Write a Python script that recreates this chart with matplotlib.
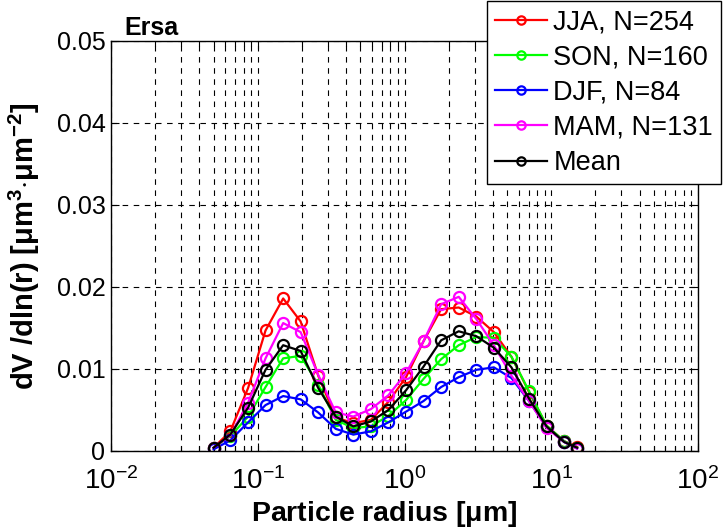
import matplotlib
matplotlib.use("Agg")
import matplotlib.pyplot as plt
from matplotlib.ticker import LogLocator, NullFormatter
import numpy as np

plt.rcParams['font.family'] = ['Liberation Sans', 'DejaVu Sans']
plt.rcParams['mathtext.fontset'] = 'custom'
plt.rcParams['mathtext.rm'] = 'Liberation Sans'
plt.rcParams['mathtext.bf'] = 'Liberation Sans:bold'
plt.rcParams['mathtext.it'] = 'Liberation Sans:italic'

radius = [0.050, 0.065, 0.086, 0.113, 0.149, 0.196, 0.258, 0.340, 0.448, 0.590, 0.777,
          1.024, 1.349, 1.777, 2.341, 3.084, 4.063, 5.353, 7.052, 9.290, 12.239, 15.000]

jja = [0.0004, 0.0024, 0.0077, 0.0147, 0.0186, 0.0158, 0.0092, 0.0041, 0.0034, 0.0038, 0.0060,
       0.0090, 0.0134, 0.0173, 0.0175, 0.0164, 0.0145, 0.0115, 0.0072, 0.0031, 0.0012, 0.0005]
son = [0.0004, 0.0018, 0.0042, 0.0078, 0.0113, 0.0116, 0.0081, 0.0038, 0.0028, 0.0030, 0.0043,
       0.0062, 0.0088, 0.0112, 0.0129, 0.0139, 0.0138, 0.0115, 0.0073, 0.0031, 0.0012, 0.0004]
djf = [0.0002, 0.0013, 0.0035, 0.0056, 0.0067, 0.0063, 0.0047, 0.0027, 0.0020, 0.0024, 0.0035,
       0.0048, 0.0061, 0.0078, 0.0090, 0.0099, 0.0102, 0.0089, 0.0061, 0.0029, 0.0011, 0.0003]
mam = [0.0004, 0.0019, 0.0059, 0.0113, 0.0156, 0.0145, 0.0093, 0.0047, 0.0042, 0.0051, 0.0068,
       0.0095, 0.0134, 0.0179, 0.0188, 0.0161, 0.0129, 0.0092, 0.0061, 0.0028, 0.0011, 0.0003]
mean = [0.0004, 0.0020, 0.0053, 0.0099, 0.0129, 0.0122, 0.0077, 0.0042, 0.0030, 0.0036, 0.0050,
        0.0074, 0.0103, 0.0135, 0.0146, 0.0140, 0.0126, 0.0102, 0.0064, 0.0030, 0.0011, 0.0004]

labels = ['JJA, N=254', 'SON, N=160', 'DJF, N=84', 'MAM, N=131', 'Mean']
colors = ['#ff0000', '#00ff00', '#0000ff', '#ff00ff', '#000000']
series = [jja, son, djf, mam, mean]

yticks = [0, 0.01, 0.02, 0.03, 0.04, 0.05]
ytick_labels = ['0', '0.01', '0.02', '0.03', '0.04', '0.05']

fig = plt.figure(figsize=(7.23, 5.30), dpi=100)
ax = fig.add_axes([111/723, 79/530, (698-111)/723, (451-41)/530])

handles = []
for vals, c, lab in zip(series, colors, labels):
    h, = ax.plot(radius, vals, '-o', color=c, lw=1.6, ms=8, mfc='none', mew=1.6, label=lab)
    handles.append(h)

ax.set_xscale('log')
ax.set_xlim(1e-2, 1e2)
ax.set_ylim(0, 0.05)
ax.set_yticks(yticks)
ax.set_yticklabels(ytick_labels)
ax.xaxis.set_major_locator(LogLocator(base=10, numticks=10))
ax.xaxis.set_minor_locator(LogLocator(base=10, subs=np.arange(2, 10), numticks=100))
ax.xaxis.set_minor_formatter(NullFormatter())

ax.grid(True, which='major', axis='both', color='black', linestyle=(0, (5, 5)), lw=0.8)
ax.grid(True, which='minor', axis='x', color='black', linestyle=(0, (5, 5)), lw=0.8)
ax.set_axisbelow(True)

ax.tick_params(which='both', direction='in', top=True, right=True)
ax.tick_params(axis='y', labelsize=18, pad=4)
ax.tick_params(axis='x', labelsize=20, pad=12)
ax.tick_params(which='major', length=6, width=0.8)
ax.tick_params(which='minor', length=3.5, width=0.8)
for s in ax.spines.values():
    s.set_linewidth(1.0)

ax.set_xlabel(r'Particle radius [$\mathbf{\mu}$m]', fontsize=20.5, fontweight='bold')
ax.xaxis.set_label_coords(0.466, -0.118)
ax.set_ylabel(r'dV /dln(r) [$\mathbf{\mu}$m$^\mathbf{3}\mathbf{\cdot\mu}$m$^\mathbf{-2}$]',
              fontsize=21, fontweight='bold')
ax.yaxis.set_label_coords(-0.117, 0.5)
ax.text(0.022, 1.003, 'Ersa', transform=ax.transAxes, fontsize=18, fontweight='bold',
        ha='left', va='bottom')

leg = fig.legend(handles=handles, loc='upper left', bbox_to_anchor=(487/723, 0.998),
                 fontsize=19.5, frameon=True, fancybox=False, edgecolor='black',
                 borderpad=0.3, labelspacing=0.34, handlelength=1.9, handletextpad=0.25,
                 borderaxespad=0)
leg.get_frame().set_linewidth(1.0)
leg.get_frame().set_facecolor('white')
leg.get_frame().set_alpha(1)
for lh in leg.legend_handles:
    lh.set_markersize(6)

fig.savefig('out.png', dpi=100)
